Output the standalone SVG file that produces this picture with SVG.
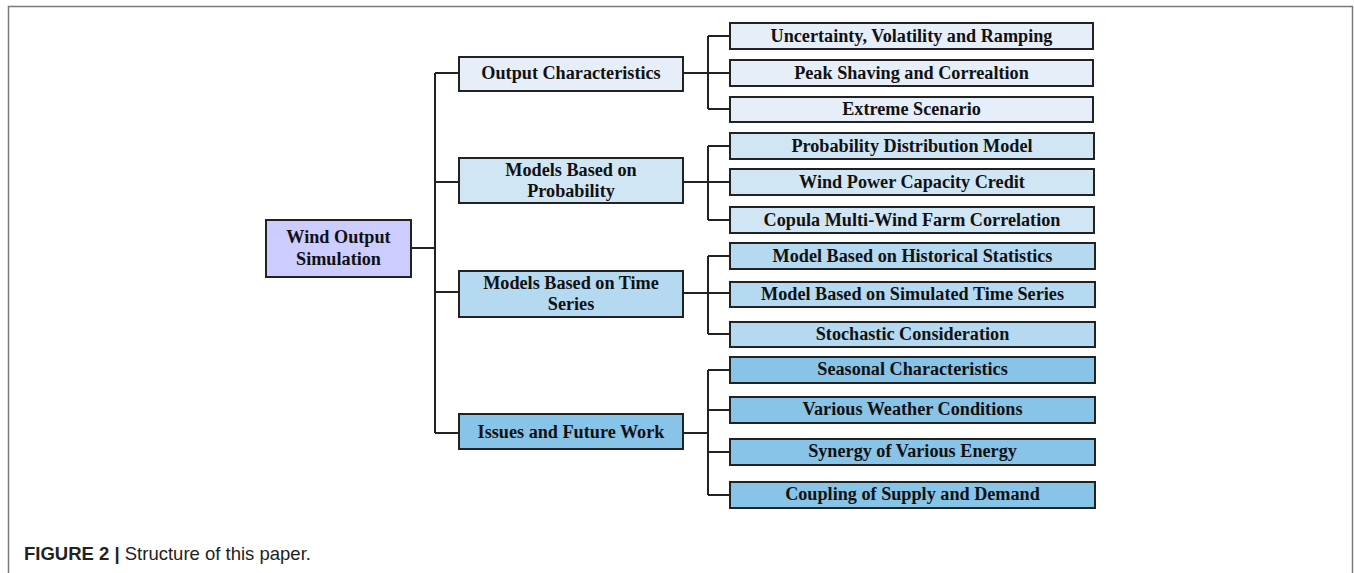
<svg xmlns="http://www.w3.org/2000/svg" width="1354" height="573" viewBox="0 0 1354 573">
<style>
.frame{fill:none;stroke:#7a7a7a;stroke-width:1.5}
.box{stroke:#222;stroke-width:2}
.t{font-family:"Liberation Serif","Times New Roman",serif;font-weight:bold;font-size:18.2px;fill:#111;text-anchor:middle}
.c1{fill:#E6EEF9}.c2{fill:#D1E6F4}.c3{fill:#B5D9F0}.c4{fill:#88C3E8}.c0{fill:#CCCCFF}
.ln{fill:none;stroke:#222;stroke-width:2}
.cap{font-family:"Liberation Sans",Arial,sans-serif;font-size:18.5px;fill:#222}
</style>
<rect width="1354" height="573" fill="#fff"/>
<path class="frame" d="M8.5 580 V6.5 H1352.5 V580"/>
<g id="connectors">
<path class="ln" d="M411 248 H435 M435 73 V433 M435 73 H459 M435 182 H459 M435 292 H459 M435 433 H459"/>
<path class="ln" d="M683 73 H730 M708 36 V109 M708 36 H730 M708 109 H730"/>
<path class="ln" d="M683 182 H730 M708 146 V220 M708 146 H730 M708 220 H730"/>
<path class="ln" d="M683 293 H730 M708 256 V334 M708 256 H730 M708 334 H730"/>
<path class="ln" d="M683 433 H708 M708 370 V495 M708 370 H730 M708 410 H730 M708 452 H730 M708 495 H730"/>
</g>
<g id="root"><rect class="box c0" x="266" y="220" width="145" height="57"/><text class="t" x="338.5" y="243">Wind Output</text><text class="t" x="338.5" y="265">Simulation</text></g>
<g id="n-output"><rect class="box c1" x="459" y="57" width="224" height="34"/><text class="t" x="571" y="79">Output Characteristics</text></g>
<g id="n-prob"><rect class="box c2" x="459" y="158" width="224" height="45"/><text class="t" x="571" y="176">Models Based on</text><text class="t" x="571" y="197">Probability</text></g>
<g id="n-time"><rect class="box c3" x="459" y="271" width="224" height="46"/><text class="t" x="571" y="289">Models Based on Time</text><text class="t" x="571" y="310">Series</text></g>
<g id="n-issues"><rect class="box c4" x="459" y="414" width="224" height="35"/><text class="t" x="571" y="438">Issues and Future Work</text></g>
<g id="l-1"><rect class="box c1" x="730" y="23" width="363" height="26"/><text class="t" x="911.5" y="42">Uncertainty, Volatility and Ramping</text></g>
<g id="l-2"><rect class="box c1" x="730" y="60" width="363" height="26"/><text class="t" x="911.5" y="79">Peak Shaving and Correaltion</text></g>
<g id="l-3"><rect class="box c1" x="730" y="97" width="363" height="25"/><text class="t" x="911.5" y="115">Extreme Scenario</text></g>
<g id="l-4"><rect class="box c2" x="730" y="133" width="364" height="26"/><text class="t" x="912" y="152">Probability Distribution Model</text></g>
<g id="l-5"><rect class="box c2" x="730" y="169" width="364" height="26"/><text class="t" x="912" y="188">Wind Power Capacity Credit</text></g>
<g id="l-6"><rect class="box c2" x="730" y="207" width="364" height="26"/><text class="t" x="912" y="226">Copula Multi-Wind Farm Correlation</text></g>
<g id="l-7"><rect class="box c3" x="730" y="243" width="365" height="26"/><text class="t" x="912.5" y="262">Model Based on Historical Statistics</text></g>
<g id="l-8"><rect class="box c3" x="730" y="282" width="365" height="25"/><text class="t" x="912.5" y="300">Model Based on Simulated Time Series</text></g>
<g id="l-9"><rect class="box c3" x="730" y="322" width="365" height="25"/><text class="t" x="912.5" y="340">Stochastic Consideration</text></g>
<g id="l-10"><rect class="box c4" x="730" y="357" width="365" height="26"/><text class="t" x="912.5" y="375">Seasonal Characteristics</text></g>
<g id="l-11"><rect class="box c4" x="730" y="397" width="365" height="26"/><text class="t" x="912.5" y="415">Various Weather Conditions</text></g>
<g id="l-12"><rect class="box c4" x="730" y="439" width="365" height="26"/><text class="t" x="912.5" y="457">Synergy of Various Energy</text></g>
<g id="l-13"><rect class="box c4" x="730" y="482" width="365" height="26"/><text class="t" x="912.5" y="500">Coupling of Supply and Demand</text></g>
<text class="cap" x="24" y="560"><tspan font-weight="bold">FIGURE 2 |</tspan> Structure of this paper.</text>
</svg>
